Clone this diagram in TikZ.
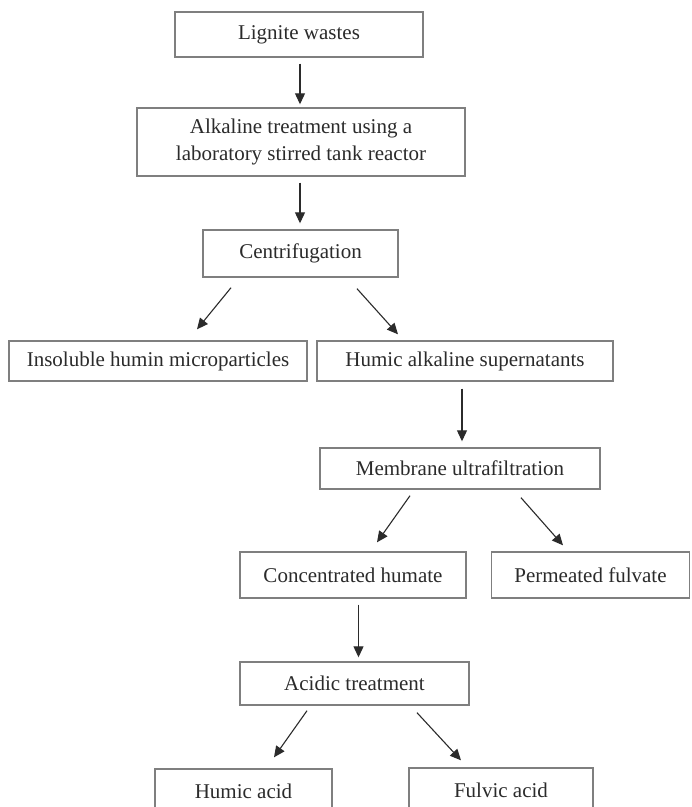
\documentclass[tikz,border=0pt]{standalone}
\usepackage{fontspec}
\setmainfont{Liberation Serif}
\usetikzlibrary{arrows.meta}
\definecolor{txt}{HTML}{2B2B2B}
\definecolor{frame}{HTML}{7F7F7F}
\tikzset{
  box/.style={draw=frame, line width=1.4pt, inner sep=0pt, align=center,
    text=txt, font=\fontsize{21}{27}\selectfont},
  arr/.style={draw=txt, line width=1.1pt, -{Triangle[length=11pt,width=10pt]}}
}
\begin{document}
\begin{tikzpicture}[x=1pt,y=-1pt]
\useasboundingbox (0,0) rectangle (692,807);
\clip (0,0) rectangle (692,807);
\fill[white] (0,0) rectangle (692,807);
\node[box, minimum width=248pt, minimum height=45pt] (lig) at (299,34.5) {Lignite wastes};
\node[box, minimum width=328pt, minimum height=68pt] (alk) at (301,142) {Alkaline treatment using a\\laboratory stirred tank reactor};
\node[box, minimum width=195pt, minimum height=47pt] (cen) at (300.5,253.5) {Centrifugation};
\node[box, minimum width=298pt, minimum height=40pt] (ins) at (158,361) {Insoluble humin microparticles};
\node[box, minimum width=296pt, minimum height=40pt] (hum) at (465,361) {Humic alkaline supernatants};
\node[box, minimum width=280pt, minimum height=41pt] (mem) at (460,468.5) {Membrane ultrafiltration};
\node[box, minimum width=226pt, minimum height=46pt] (con) at (353,575) {Concentrated humate};
\node[box, minimum width=198pt, minimum height=46pt] (per) at (590.5,575) {Permeated fulvate};
\node[box, minimum width=229pt, minimum height=43pt] (aci) at (354.5,683.5) {Acidic treatment};
\node[box, minimum width=177pt, minimum height=44pt] (ha) at (243.5,791) {Humic acid};
\node[box, minimum width=184pt, minimum height=44pt] (fa) at (501,790) {Fulvic acid};
\draw[arr] ([shift={(1,6)}]lig.south) -- ([shift={(-1,-3)}]alk.north);
\draw[arr] ([shift={(-1,6)}]alk.south) -- ([shift={(-0.5,-6)}]cen.north);
\draw[arr] ([shift={(-69.5,10)}]cen.south) -- ([shift={(39,-11)}]ins.north);
\draw[arr] ([shift={(56.5,11)}]cen.south) -- ([shift={(-67,-6)}]hum.north);
\draw[arr] ([shift={(-3,7)}]hum.south) -- ([shift={(2,-6)}]mem.north);
\draw[arr] ([shift={(-50,6)}]mem.south) -- ([shift={(24,-9)}]con.north);
\draw[arr] ([shift={(61,8)}]mem.south) -- ([shift={(-27.5,-6)}]per.north);
\draw[arr] ([shift={(5.5,6)}]con.south) -- ([shift={(4,-4)}]aci.north);
\draw[arr] ([shift={(-47.5,5)}]aci.south) -- ([shift={(30.5,-11)}]ha.north);
\draw[arr] ([shift={(62.5,7)}]aci.south) -- ([shift={(-40,-7)}]fa.north);
\end{tikzpicture}
\end{document}
